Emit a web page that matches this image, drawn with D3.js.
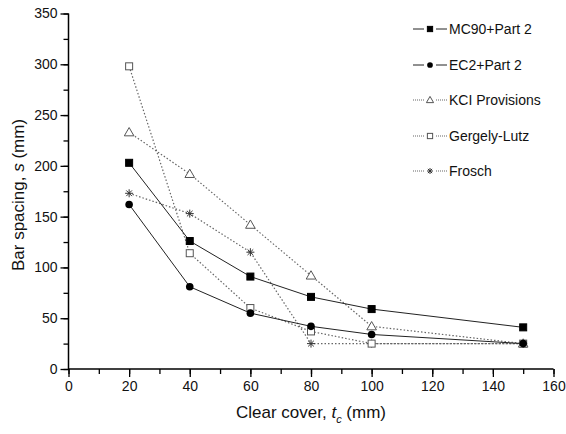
<!DOCTYPE html>
<html><head><meta charset="utf-8">
<script src="https://cdn.jsdelivr.net/npm/d3@7"></script>
<style>body{margin:0;background:#fff}svg{font-family:"Liberation Sans",Arial,sans-serif}</style>
</head><body><svg id="c" width="566" height="434"></svg>
<script>
const xValues = [20, 40, 60, 80, 100, 150];
const mc90 = [203, 126, 91, 71, 59, 41];
const ec2 = [162, 81, 55, 42, 34, 25];
const kci = [233, 192, 142, 92, 42, 25];
const gergely = [298, 114, 60, 37, 25, 25];
const frosch = [173, 153, 115, 25, 25, 25];
const seriesNames = ["MC90+Part 2", "EC2+Part 2", "KCI Provisions", "Gergely-Lutz", "Frosch"];
const xTicks = [0, 20, 40, 60, 80, 100, 120, 140, 160];
const yTicks = [0, 50, 100, 150, 200, 250, 300, 350];

const series = [
  {name: seriesNames[0], vals: mc90, marker: "square", fill: "#000", dash: null},
  {name: seriesNames[1], vals: ec2, marker: "circle", fill: "#000", dash: null},
  {name: seriesNames[2], vals: kci, marker: "triangle", fill: "#fff", dash: "1.5,2"},
  {name: seriesNames[3], vals: gergely, marker: "square", fill: "#fff", dash: "1.5,2"},
  {name: seriesNames[4], vals: frosch, marker: "star", fill: "none", dash: "1.5,2"}
];

const svg = d3.select("#c");
const x = d3.scaleLinear().domain([0, 160]).range([68.5, 553.5]);
const y = d3.scaleLinear().domain([0, 350]).range([369, 13.5]);

// axes
const gx = svg.append("g").attr("transform", "translate(0,369)");
gx.call(d3.axisBottom(x).tickValues(d3.range(0, 161, 10)).tickSize(5).tickFormat(""));
gx.call(g => g.selectAll(".tick line").attr("stroke-width", 1.3));
const gx2 = svg.append("g").attr("transform", "translate(0,369)");
gx2.call(d3.axisBottom(x).tickValues(xTicks).tickSize(8).tickPadding(4).tickFormat(d3.format("d")));
gx2.select(".domain").remove();
gx2.selectAll("text").attr("font-size", 14).attr("fill", "#111").attr("font-family", "Liberation Sans, Arial");
gx2.selectAll(".tick line").attr("stroke-width", 1.3);
gx.select(".domain").attr("stroke-width", 1.5).attr("d", "M68.5,0H553.5");

const gy = svg.append("g").attr("transform", "translate(68.5,0)");
gy.call(d3.axisLeft(y).tickValues(d3.range(0, 351, 25)).tickSize(5).tickFormat(""));
gy.selectAll(".tick line").attr("stroke-width", 1.3);
gy.select(".domain").attr("stroke-width", 1.5).attr("d", "M0,369V13.5");
const gy2 = svg.append("g").attr("transform", "translate(68.5,0)");
gy2.call(d3.axisLeft(y).tickValues(yTicks).tickSize(8).tickPadding(3));
gy2.select(".domain").remove();
gy2.selectAll(".tick line").attr("stroke-width", 1.3);
gy2.selectAll("text").attr("font-size", 14).attr("fill", "#111").attr("font-family", "Liberation Sans, Arial");

// titles
const xt = svg.append("text").attr("x", 311).attr("y", 418).attr("text-anchor", "middle")
  .attr("font-size", 17).attr("fill", "#111");
xt.append("tspan").text("Clear cover, ");
xt.append("tspan").attr("font-style", "italic").text("t");
xt.append("tspan").attr("font-size", 11).attr("font-style", "italic").attr("dy", 5).text("c");
xt.append("tspan").attr("dy", -5).text(" (mm)");

const yt = svg.append("text").attr("transform", "translate(24,195) rotate(-90)").attr("text-anchor", "middle")
  .attr("font-size", 17).attr("fill", "#111");
yt.append("tspan").text("Bar spacing, ");
yt.append("tspan").attr("font-style", "italic").text("s");
yt.append("tspan").text(" (mm)");

function drawMarker(g, type, fill, cx, cy, k) {
  if (type === "square") {
    const h = 3.5 * k;
    g.append("rect").attr("x", cx - h).attr("y", cy - h).attr("width", 2 * h).attr("height", 2 * h)
      .attr("fill", fill).attr("stroke", fill === "#000" ? "#000" : "#555").attr("stroke-width", 1);
  } else if (type === "circle") {
    g.append("circle").attr("cx", cx).attr("cy", cy).attr("r", 3.8 * k).attr("fill", "#000");
  } else if (type === "triangle") {
    g.append("path").attr("d", `M${cx},${cy - 4.8 * k}L${cx + 4.8 * k},${cy + 3.5 * k}L${cx - 4.8 * k},${cy + 3.5 * k}Z`)
      .attr("fill", "#fff").attr("stroke", "#555").attr("stroke-width", 1);
  } else if (type === "star") {
    const r = 4 * k;
    let d = "";
    for (let i = 0; i < 4; i++) {
      const a = i * Math.PI / 4;
      d += `M${cx - r * Math.cos(a)},${cy - r * Math.sin(a)}L${cx + r * Math.cos(a)},${cy + r * Math.sin(a)}`;
    }
    g.append("path").attr("d", d).attr("stroke", "#333").attr("stroke-width", 1).attr("fill", "none");
  }
}

const line = d3.line().x(d => x(d[0])).y(d => y(d[1]));
const drawOrder = [4, 3, 2, 1, 0];
drawOrder.forEach(i => {
  const s = series[i];
  const pts = xValues.map((xv, j) => [xv, s.vals[j]]);
  svg.append("path").attr("d", line(pts)).attr("fill", "none")
    .attr("stroke", s.dash ? "#666" : "#222").attr("stroke-width", s.dash ? 1.2 : 1)
    .attr("stroke-dasharray", s.dash);
});
drawOrder.forEach(i => {
  const s = series[i];
  const g = svg.append("g");
  xValues.forEach((xv, j) => drawMarker(g, s.marker, s.fill, x(xv), y(s.vals[j]), 1));
});

// legend
const legY = [29, 65, 100, 136, 171];
series.forEach((s, i) => {
  const g = svg.append("g");
  const ly = legY[i];
  [[413, 424], [436, 447]].forEach(([a, b]) => {
    g.append("line").attr("x1", a).attr("x2", b).attr("y1", ly).attr("y2", ly)
      .attr("stroke", s.dash ? "#666" : "#222").attr("stroke-width", s.dash ? 1.1 : 1)
      .attr("stroke-dasharray", s.dash ? "1,1" : null);
  });
  drawMarker(g, s.marker, s.fill, 430, ly, 0.75);
  g.append("text").attr("x", 449).attr("y", ly + 5).attr("font-size", 14).attr("fill", "#111").text(s.name);
});
</script></body></html>
